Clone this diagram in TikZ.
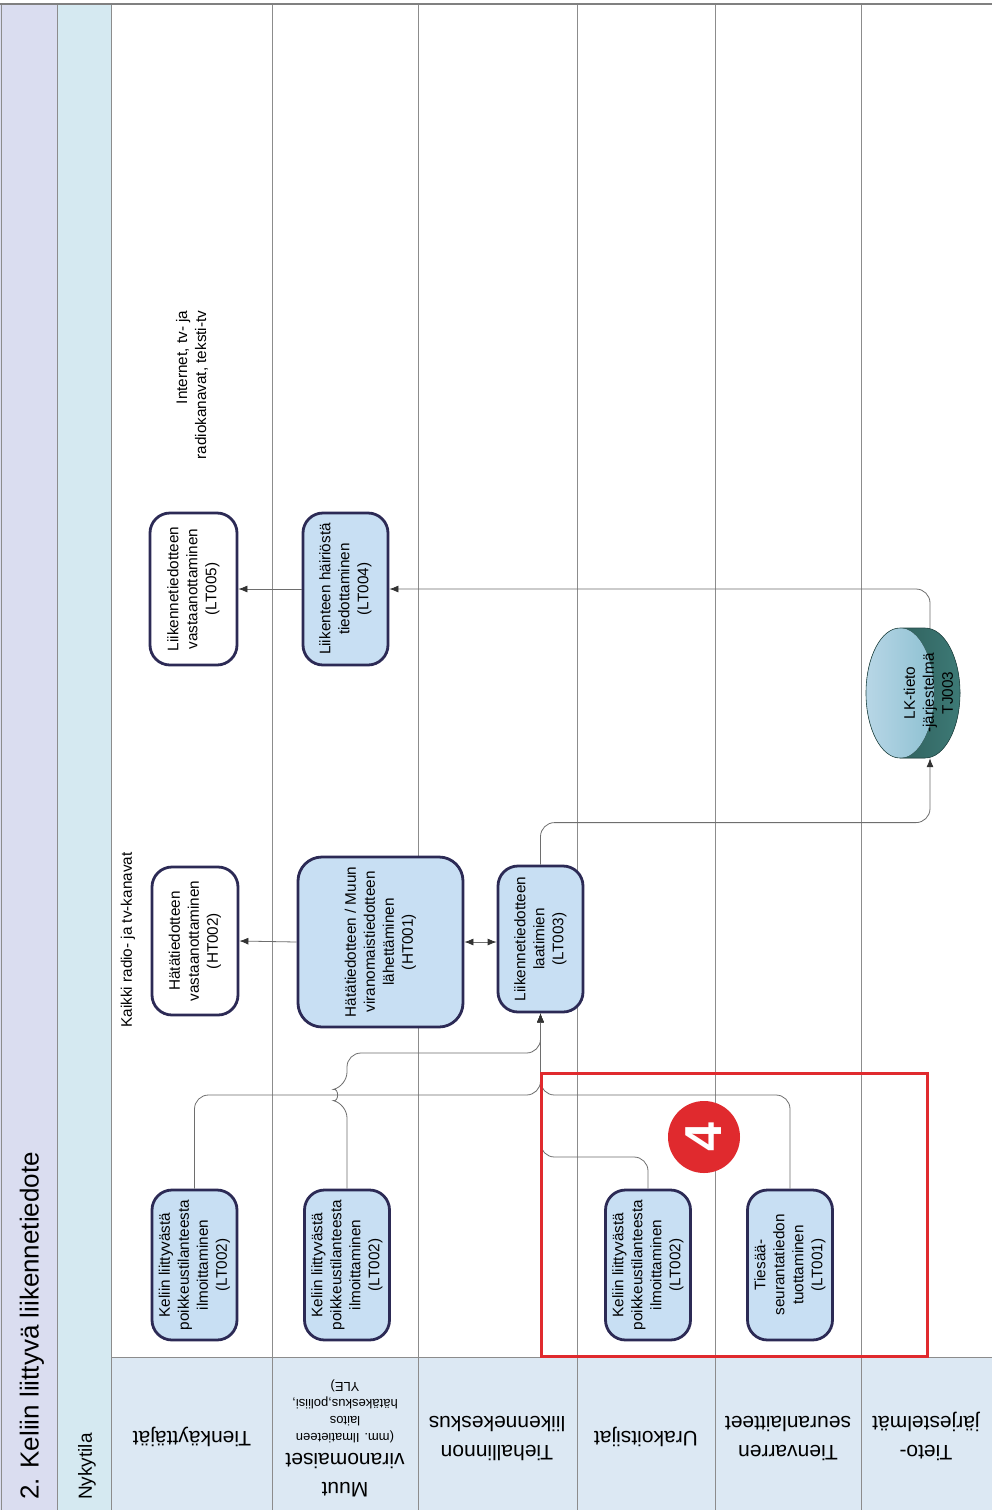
\documentclass[tikz,border=0pt]{standalone}
\usepackage{fontspec}
\setmainfont{Liberation Sans}
\usetikzlibrary{arrows.meta}
\definecolor{navy}{HTML}{2C2A55}
\definecolor{nodeblue}{HTML}{C8DFF3}
\definecolor{hdrblue}{HTML}{DCE8F3}
\definecolor{lav}{HTML}{DADDF0}
\definecolor{cyanl}{HTML}{D5E9F1}
\definecolor{laneg}{HTML}{8C8C8C}
\definecolor{conng}{HTML}{6E6E6E}
\definecolor{redm}{HTML}{E02A2E}
\definecolor{cyl}{HTML}{A6CCE0}
\definecolor{cyld}{HTML}{3D7A76}
\newcommand\ndf{\fontsize{15.3}{19}\selectfont}
\newcommand\hdrf{\fontsize{21}{29}\selectfont}
\newcommand\smlf{\fontsize{13}{17}\selectfont}
\newcommand\myvt[1]{\rotatebox{90}{\ndf\begin{tabular}{@{}c@{}}#1\end{tabular}}}
\newcommand\myht[1]{\begin{tabular}{@{}c@{}}#1\end{tabular}}
\begin{document}
\begin{tikzpicture}[x=1pt,y=-1pt,
 proc/.style={draw=navy, line width=2.8pt, fill=nodeblue, rounded corners=20pt, inner sep=0pt, minimum width=85pt, minimum height=150pt},
 wproc/.style={proc, fill=white},
 >={Latex[length=9pt,width=7pt,color=black!80]},
 conn/.style={draw=conng, line width=0.8pt, rounded corners=14pt, ->},
 lane/.style={draw=laneg, line width=0.7pt},
 hdr/.style={rotate=180, inner sep=0pt, font=\hdrf},
 lbl/.style={rotate=90, inner sep=0pt, font=\ndf},
 ]
\useasboundingbox (0,0) rectangle (992,1510);
% background
\fill[white] (0,0) rectangle (992,1510);
\fill[lav] (0,4) rectangle (57,1510);
\fill[cyanl] (57,4) rectangle (111,1510);
\fill[hdrblue] (111,1357) rectangle (992,1510);
\foreach \x in {1,57,111,272,418,577,715,861} \draw[lane] (\x,4) -- (\x,1510);
\draw[lane] (111,1357) -- (992,1357);
\draw[draw=gray, line width=1.2pt] (0,4) -- (992,4);
% title column
\node[rotate=90, anchor=west, inner sep=0pt, font=\fontsize{26}{30}\selectfont] (title) at (32,1500) {2. Keliin liittyvä liikennetiedote};
\node[rotate=90, anchor=west, inner sep=0pt, font=\fontsize{19}{22}\selectfont] (nyk) at (87,1500) {Nykytila};
% lane headers
\node[hdr] (h1) at (192,1437) {Tienkäyttäjät};
\node[hdr] (h2) at (345,1440) {\myht{Muut\\viranomaiset\\ \smlf\myht{(mm. Ilmatieteen\\laitos\\hätäkeskus,poliisi,\\YLE)}}};
\node[hdr] (h3) at (497,1437) {\myht{Tiehallinnon\\liikennekeskus}};
\node[hdr] (h4) at (646,1437) {Urakoitsijat};
\node[hdr] (h5) at (788,1437) {\myht{Tienvarren\\seuranlaitteet}};
\node[hdr] (h6) at (926,1437) {\myht{Tieto-\\järjestelmät}};
% labels
\node[lbl] (lab1) at (128,940) {Kaikki radio- ja tv-kanavat};
\node[lbl, align=right] (lab2) at (192,385) {Internet, tv- ja\\radiokanavat, teksti-tv};
% process nodes
\node[proc] (A) at (194.5,1265) {\myvt{Keliin liittyvästä\\poikkeustilanteesta\\ilmoittaminen\\(LT002)}};
\node[proc] (B) at (347,1265) {\myvt{Keliin liittyvästä\\poikkeustilanteesta\\ilmoittaminen\\(LT002)}};
\node[proc] (C) at (648,1265) {\myvt{Keliin liittyvästä\\poikkeustilanteesta\\ilmoittaminen\\(LT002)}};
\node[proc] (D) at (790,1265) {\myvt{Tiesää-\\seurantatiedon\\tuottaminen\\(LT001)}};
\node[wproc, minimum width=86pt, minimum height=148pt] (E) at (195,941) {\myvt{Hätätiedotteen\\vastaanottaminen\\(HT002)}};
\node[proc, minimum width=165pt, minimum height=170pt, rounded corners=24pt] (F) at (380.5,942) {\myvt{Hätätiedotteen / Muun\\viranomaistiedotteen\\lähettäminen\\(HT001)}};
\node[proc, minimum height=146pt] (G) at (540.5,939) {\myvt{Liikennetiedotteen\\laatimien\\(LT003)}};
\node[wproc, minimum width=87pt, minimum height=152pt] (H) at (193.5,589) {\myvt{Liikennetiedotteen\\vastaanottaminen\\(LT005)}};
\node[proc, minimum height=152pt] (I) at (345.5,589) {\myvt{Liikenteen häiriöstä\\tiedottaminen\\(LT004)}};
% cylinder
\fill[left color=cyld!80!black, right color=cyld] (900,628) -- (925,628) arc[start angle=-90,end angle=90,x radius=35,y radius=65] -- (900,758) -- cycle;
\fill[left color=cyl!80!white, right color=cyl!85!teal] (900,693) ellipse[x radius=34,y radius=65];
\draw[cyld!60!black, line width=0.6pt] (900,628) -- (925,628) arc[start angle=-90,end angle=90,x radius=35,y radius=65] -- (900,758) arc[start angle=90,end angle=270,x radius=34,y radius=65];
\node[inner sep=0pt, minimum width=60pt, minimum height=130pt] (J) at (930,693) {\myvt{LK-tieto\\-järjestelmä\\TJ003}};
% connectors
\draw[conn] (A.north) -- (194.5,1095) -- (540.5,1095) -- (G.south);
\draw[conn] (B.north) -- (347,1104) .. controls (339,1102) and (339,1088) .. (347,1086) -- (347,1053) -- (540.5,1053) -- (G.south);
\draw[conn] (C.north) -- (648,1157) -- (540.5,1157) -- (G.south);
\draw[conn] (D.north) -- (790,1095) -- (540.5,1095) -- (G.south);
\draw[conn] (G.north) -- ++(0,-42) -| (J.south);
\draw[conn] (J.north) |- (I.east);
\draw[conn] (I.west) -- (H.east);
\draw[conn] (F.west) -- (E.west -| E.east);
\draw[conn, <->] (F.east) -- (F.east -| G.west);
% highlight
\draw[redm, line width=3pt] (541,1073) rectangle (927,1356);
\node[circle, fill=redm, minimum size=72pt, inner sep=0pt, text=white, font=\fontsize{52}{52}\selectfont\bfseries] (badge) at (704,1137) {\rotatebox{90}{4}};
\end{tikzpicture}
\end{document}
